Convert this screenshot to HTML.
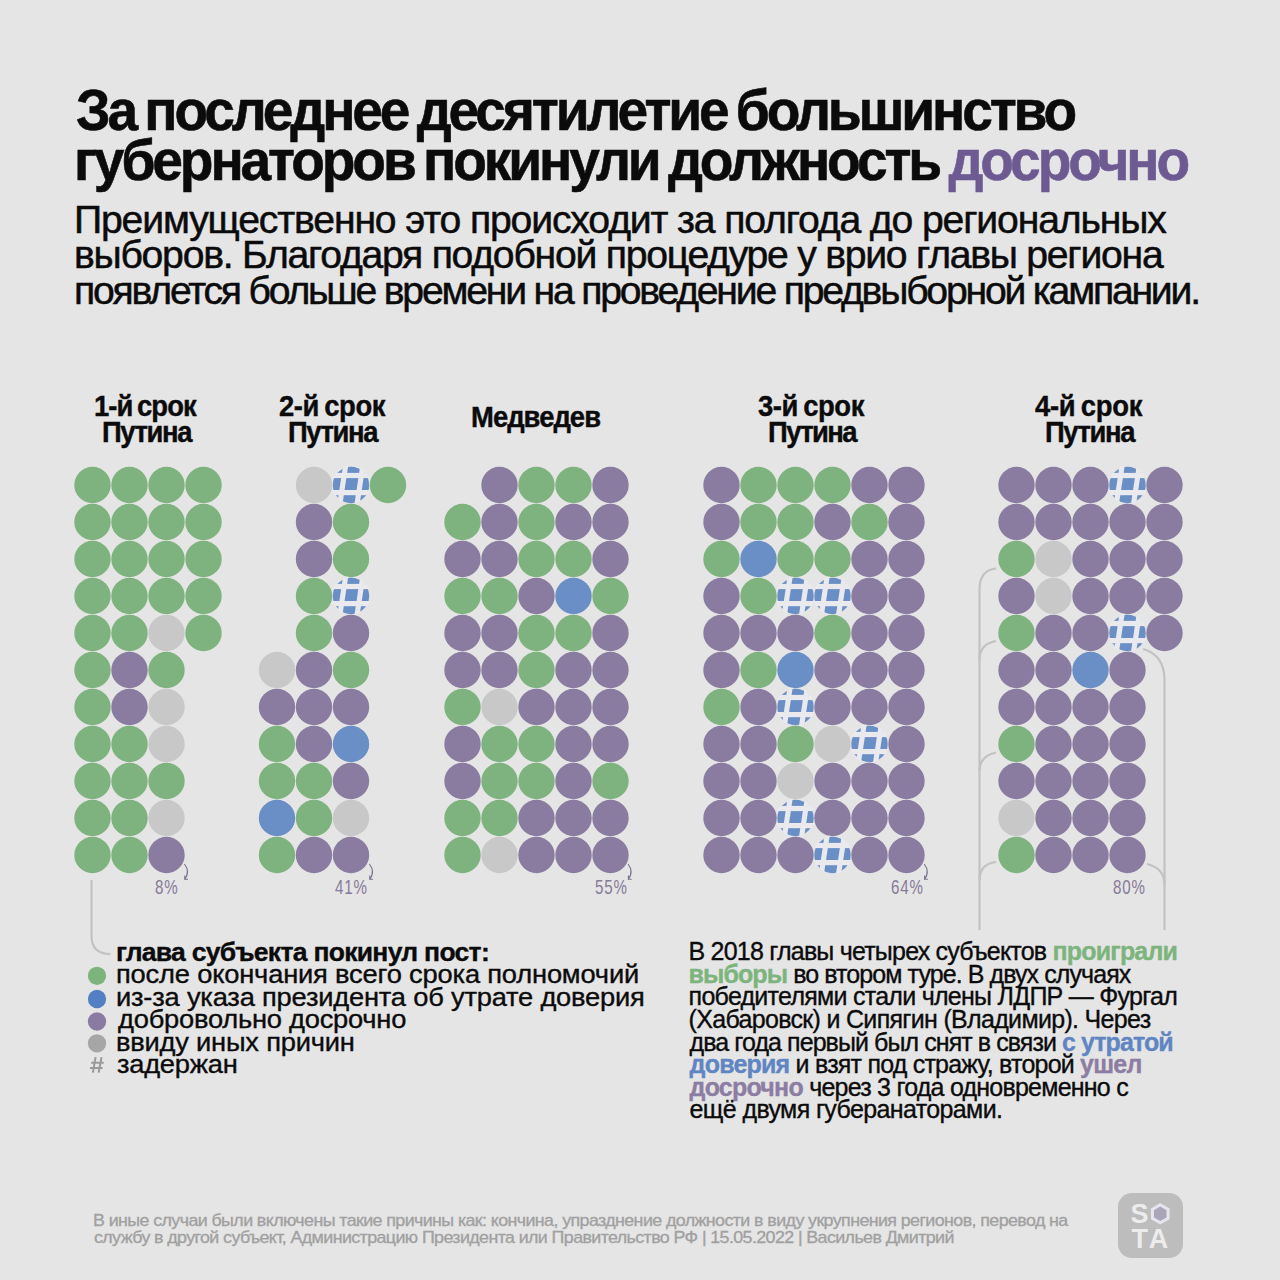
<!DOCTYPE html>
<html><head><meta charset="utf-8">
<style>
html,body{margin:0;padding:0;}
body{width:1280px;height:1280px;background:#e5e5e5;position:relative;overflow:hidden;font-family:"Liberation Sans",sans-serif;}
.t{position:absolute;white-space:nowrap;}
.pct{position:absolute;white-space:nowrap;font-size:21px;line-height:21px;color:#857a98;transform:scaleX(0.72);transform-origin:left top;letter-spacing:1.2px;}
</style></head><body>
<svg width="1280" height="1280" style="position:absolute;left:0;top:0">
<defs><clipPath id="hc"><circle r="18.2"/></clipPath><clipPath id="hc2"><circle r="19.4"/></clipPath></defs>
<circle cx="92.5" cy="485.0" r="18.2" fill="#7eb27e"/>
<circle cx="129.5" cy="485.0" r="18.2" fill="#7eb27e"/>
<circle cx="166.5" cy="485.0" r="18.2" fill="#7eb27e"/>
<circle cx="203.5" cy="485.0" r="18.2" fill="#7eb27e"/>
<circle cx="92.5" cy="522.0" r="18.2" fill="#7eb27e"/>
<circle cx="129.5" cy="522.0" r="18.2" fill="#7eb27e"/>
<circle cx="166.5" cy="522.0" r="18.2" fill="#7eb27e"/>
<circle cx="203.5" cy="522.0" r="18.2" fill="#7eb27e"/>
<circle cx="92.5" cy="559.0" r="18.2" fill="#7eb27e"/>
<circle cx="129.5" cy="559.0" r="18.2" fill="#7eb27e"/>
<circle cx="166.5" cy="559.0" r="18.2" fill="#7eb27e"/>
<circle cx="203.5" cy="559.0" r="18.2" fill="#7eb27e"/>
<circle cx="92.5" cy="596.0" r="18.2" fill="#7eb27e"/>
<circle cx="129.5" cy="596.0" r="18.2" fill="#7eb27e"/>
<circle cx="166.5" cy="596.0" r="18.2" fill="#7eb27e"/>
<circle cx="203.5" cy="596.0" r="18.2" fill="#7eb27e"/>
<circle cx="92.5" cy="633.0" r="18.2" fill="#7eb27e"/>
<circle cx="129.5" cy="633.0" r="18.2" fill="#7eb27e"/>
<circle cx="166.5" cy="633.0" r="18.2" fill="#c8c8c8"/>
<circle cx="203.5" cy="633.0" r="18.2" fill="#7eb27e"/>
<circle cx="92.5" cy="670.0" r="18.2" fill="#7eb27e"/>
<circle cx="129.5" cy="670.0" r="18.2" fill="#8a7ba0"/>
<circle cx="166.5" cy="670.0" r="18.2" fill="#7eb27e"/>
<circle cx="92.5" cy="707.0" r="18.2" fill="#7eb27e"/>
<circle cx="129.5" cy="707.0" r="18.2" fill="#8a7ba0"/>
<circle cx="166.5" cy="707.0" r="18.2" fill="#c8c8c8"/>
<circle cx="92.5" cy="744.0" r="18.2" fill="#7eb27e"/>
<circle cx="129.5" cy="744.0" r="18.2" fill="#7eb27e"/>
<circle cx="166.5" cy="744.0" r="18.2" fill="#c8c8c8"/>
<circle cx="92.5" cy="781.0" r="18.2" fill="#7eb27e"/>
<circle cx="129.5" cy="781.0" r="18.2" fill="#7eb27e"/>
<circle cx="166.5" cy="781.0" r="18.2" fill="#7eb27e"/>
<circle cx="92.5" cy="818.0" r="18.2" fill="#7eb27e"/>
<circle cx="129.5" cy="818.0" r="18.2" fill="#7eb27e"/>
<circle cx="166.5" cy="818.0" r="18.2" fill="#c8c8c8"/>
<circle cx="92.5" cy="855.0" r="18.2" fill="#7eb27e"/>
<circle cx="129.5" cy="855.0" r="18.2" fill="#7eb27e"/>
<circle cx="166.5" cy="855.0" r="18.2" fill="#8a7ba0"/>
<circle cx="314.0" cy="485.0" r="18.2" fill="#c8c8c8"/>
<g transform="translate(351.0,485.0)"><circle r="18.2" fill="#6a8fc6"/><g fill="#e9e9ee" clip-path="url(#hc2)"><rect x="-20" y="-12.1" width="40" height="5.2"/><rect x="-20" y="5.0" width="40" height="5.2"/><polygon points="-7.90,-20 -2.70,-20 -8.70,20 -13.90,20"/><polygon points="9.30,-20 14.50,-20 8.50,20 3.30,20"/></g></g>
<circle cx="388.0" cy="485.0" r="18.2" fill="#7eb27e"/>
<circle cx="314.0" cy="522.0" r="18.2" fill="#8a7ba0"/>
<circle cx="351.0" cy="522.0" r="18.2" fill="#7eb27e"/>
<circle cx="314.0" cy="559.0" r="18.2" fill="#8a7ba0"/>
<circle cx="351.0" cy="559.0" r="18.2" fill="#7eb27e"/>
<circle cx="314.0" cy="596.0" r="18.2" fill="#7eb27e"/>
<g transform="translate(351.0,596.0)"><circle r="18.2" fill="#6a8fc6"/><g fill="#e9e9ee" clip-path="url(#hc2)"><rect x="-20" y="-12.1" width="40" height="5.2"/><rect x="-20" y="5.0" width="40" height="5.2"/><polygon points="-7.90,-20 -2.70,-20 -8.70,20 -13.90,20"/><polygon points="9.30,-20 14.50,-20 8.50,20 3.30,20"/></g></g>
<circle cx="314.0" cy="633.0" r="18.2" fill="#7eb27e"/>
<circle cx="351.0" cy="633.0" r="18.2" fill="#8a7ba0"/>
<circle cx="277.0" cy="670.0" r="18.2" fill="#c8c8c8"/>
<circle cx="314.0" cy="670.0" r="18.2" fill="#8a7ba0"/>
<circle cx="351.0" cy="670.0" r="18.2" fill="#7eb27e"/>
<circle cx="277.0" cy="707.0" r="18.2" fill="#8a7ba0"/>
<circle cx="314.0" cy="707.0" r="18.2" fill="#8a7ba0"/>
<circle cx="351.0" cy="707.0" r="18.2" fill="#8a7ba0"/>
<circle cx="277.0" cy="744.0" r="18.2" fill="#7eb27e"/>
<circle cx="314.0" cy="744.0" r="18.2" fill="#8a7ba0"/>
<circle cx="351.0" cy="744.0" r="18.2" fill="#6a8fc6"/>
<circle cx="277.0" cy="781.0" r="18.2" fill="#7eb27e"/>
<circle cx="314.0" cy="781.0" r="18.2" fill="#7eb27e"/>
<circle cx="351.0" cy="781.0" r="18.2" fill="#8a7ba0"/>
<circle cx="277.0" cy="818.0" r="18.2" fill="#6a8fc6"/>
<circle cx="314.0" cy="818.0" r="18.2" fill="#7eb27e"/>
<circle cx="351.0" cy="818.0" r="18.2" fill="#c8c8c8"/>
<circle cx="277.0" cy="855.0" r="18.2" fill="#7eb27e"/>
<circle cx="314.0" cy="855.0" r="18.2" fill="#8a7ba0"/>
<circle cx="351.0" cy="855.0" r="18.2" fill="#8a7ba0"/>
<circle cx="499.5" cy="485.0" r="18.2" fill="#8a7ba0"/>
<circle cx="536.5" cy="485.0" r="18.2" fill="#7eb27e"/>
<circle cx="573.5" cy="485.0" r="18.2" fill="#7eb27e"/>
<circle cx="610.5" cy="485.0" r="18.2" fill="#8a7ba0"/>
<circle cx="462.5" cy="522.0" r="18.2" fill="#7eb27e"/>
<circle cx="499.5" cy="522.0" r="18.2" fill="#8a7ba0"/>
<circle cx="536.5" cy="522.0" r="18.2" fill="#7eb27e"/>
<circle cx="573.5" cy="522.0" r="18.2" fill="#8a7ba0"/>
<circle cx="610.5" cy="522.0" r="18.2" fill="#8a7ba0"/>
<circle cx="462.5" cy="559.0" r="18.2" fill="#8a7ba0"/>
<circle cx="499.5" cy="559.0" r="18.2" fill="#8a7ba0"/>
<circle cx="536.5" cy="559.0" r="18.2" fill="#7eb27e"/>
<circle cx="573.5" cy="559.0" r="18.2" fill="#7eb27e"/>
<circle cx="610.5" cy="559.0" r="18.2" fill="#8a7ba0"/>
<circle cx="462.5" cy="596.0" r="18.2" fill="#7eb27e"/>
<circle cx="499.5" cy="596.0" r="18.2" fill="#7eb27e"/>
<circle cx="536.5" cy="596.0" r="18.2" fill="#8a7ba0"/>
<circle cx="573.5" cy="596.0" r="18.2" fill="#6a8fc6"/>
<circle cx="610.5" cy="596.0" r="18.2" fill="#7eb27e"/>
<circle cx="462.5" cy="633.0" r="18.2" fill="#8a7ba0"/>
<circle cx="499.5" cy="633.0" r="18.2" fill="#8a7ba0"/>
<circle cx="536.5" cy="633.0" r="18.2" fill="#7eb27e"/>
<circle cx="573.5" cy="633.0" r="18.2" fill="#7eb27e"/>
<circle cx="610.5" cy="633.0" r="18.2" fill="#8a7ba0"/>
<circle cx="462.5" cy="670.0" r="18.2" fill="#8a7ba0"/>
<circle cx="499.5" cy="670.0" r="18.2" fill="#8a7ba0"/>
<circle cx="536.5" cy="670.0" r="18.2" fill="#7eb27e"/>
<circle cx="573.5" cy="670.0" r="18.2" fill="#8a7ba0"/>
<circle cx="610.5" cy="670.0" r="18.2" fill="#8a7ba0"/>
<circle cx="462.5" cy="707.0" r="18.2" fill="#7eb27e"/>
<circle cx="499.5" cy="707.0" r="18.2" fill="#c8c8c8"/>
<circle cx="536.5" cy="707.0" r="18.2" fill="#8a7ba0"/>
<circle cx="573.5" cy="707.0" r="18.2" fill="#8a7ba0"/>
<circle cx="610.5" cy="707.0" r="18.2" fill="#8a7ba0"/>
<circle cx="462.5" cy="744.0" r="18.2" fill="#8a7ba0"/>
<circle cx="499.5" cy="744.0" r="18.2" fill="#7eb27e"/>
<circle cx="536.5" cy="744.0" r="18.2" fill="#7eb27e"/>
<circle cx="573.5" cy="744.0" r="18.2" fill="#8a7ba0"/>
<circle cx="610.5" cy="744.0" r="18.2" fill="#8a7ba0"/>
<circle cx="462.5" cy="781.0" r="18.2" fill="#8a7ba0"/>
<circle cx="499.5" cy="781.0" r="18.2" fill="#7eb27e"/>
<circle cx="536.5" cy="781.0" r="18.2" fill="#7eb27e"/>
<circle cx="573.5" cy="781.0" r="18.2" fill="#8a7ba0"/>
<circle cx="610.5" cy="781.0" r="18.2" fill="#7eb27e"/>
<circle cx="462.5" cy="818.0" r="18.2" fill="#7eb27e"/>
<circle cx="499.5" cy="818.0" r="18.2" fill="#7eb27e"/>
<circle cx="536.5" cy="818.0" r="18.2" fill="#8a7ba0"/>
<circle cx="573.5" cy="818.0" r="18.2" fill="#8a7ba0"/>
<circle cx="610.5" cy="818.0" r="18.2" fill="#8a7ba0"/>
<circle cx="462.5" cy="855.0" r="18.2" fill="#7eb27e"/>
<circle cx="499.5" cy="855.0" r="18.2" fill="#c8c8c8"/>
<circle cx="536.5" cy="855.0" r="18.2" fill="#8a7ba0"/>
<circle cx="573.5" cy="855.0" r="18.2" fill="#8a7ba0"/>
<circle cx="610.5" cy="855.0" r="18.2" fill="#8a7ba0"/>
<circle cx="721.5" cy="485.0" r="18.2" fill="#8a7ba0"/>
<circle cx="758.5" cy="485.0" r="18.2" fill="#7eb27e"/>
<circle cx="795.5" cy="485.0" r="18.2" fill="#7eb27e"/>
<circle cx="832.5" cy="485.0" r="18.2" fill="#7eb27e"/>
<circle cx="869.5" cy="485.0" r="18.2" fill="#8a7ba0"/>
<circle cx="906.5" cy="485.0" r="18.2" fill="#8a7ba0"/>
<circle cx="721.5" cy="522.0" r="18.2" fill="#8a7ba0"/>
<circle cx="758.5" cy="522.0" r="18.2" fill="#7eb27e"/>
<circle cx="795.5" cy="522.0" r="18.2" fill="#7eb27e"/>
<circle cx="832.5" cy="522.0" r="18.2" fill="#8a7ba0"/>
<circle cx="869.5" cy="522.0" r="18.2" fill="#7eb27e"/>
<circle cx="906.5" cy="522.0" r="18.2" fill="#8a7ba0"/>
<circle cx="721.5" cy="559.0" r="18.2" fill="#7eb27e"/>
<circle cx="758.5" cy="559.0" r="18.2" fill="#6a8fc6"/>
<circle cx="795.5" cy="559.0" r="18.2" fill="#7eb27e"/>
<circle cx="832.5" cy="559.0" r="18.2" fill="#7eb27e"/>
<circle cx="869.5" cy="559.0" r="18.2" fill="#8a7ba0"/>
<circle cx="906.5" cy="559.0" r="18.2" fill="#8a7ba0"/>
<circle cx="721.5" cy="596.0" r="18.2" fill="#8a7ba0"/>
<circle cx="758.5" cy="596.0" r="18.2" fill="#7eb27e"/>
<g transform="translate(795.5,596.0)"><circle r="18.2" fill="#6a8fc6"/><g fill="#e9e9ee" clip-path="url(#hc2)"><rect x="-20" y="-12.1" width="40" height="5.2"/><rect x="-20" y="5.0" width="40" height="5.2"/><polygon points="-7.90,-20 -2.70,-20 -8.70,20 -13.90,20"/><polygon points="9.30,-20 14.50,-20 8.50,20 3.30,20"/></g></g>
<g transform="translate(832.5,596.0)"><circle r="18.2" fill="#6a8fc6"/><g fill="#e9e9ee" clip-path="url(#hc2)"><rect x="-20" y="-12.1" width="40" height="5.2"/><rect x="-20" y="5.0" width="40" height="5.2"/><polygon points="-7.90,-20 -2.70,-20 -8.70,20 -13.90,20"/><polygon points="9.30,-20 14.50,-20 8.50,20 3.30,20"/></g></g>
<circle cx="869.5" cy="596.0" r="18.2" fill="#8a7ba0"/>
<circle cx="906.5" cy="596.0" r="18.2" fill="#8a7ba0"/>
<circle cx="721.5" cy="633.0" r="18.2" fill="#8a7ba0"/>
<circle cx="758.5" cy="633.0" r="18.2" fill="#8a7ba0"/>
<circle cx="795.5" cy="633.0" r="18.2" fill="#8a7ba0"/>
<circle cx="832.5" cy="633.0" r="18.2" fill="#7eb27e"/>
<circle cx="869.5" cy="633.0" r="18.2" fill="#8a7ba0"/>
<circle cx="906.5" cy="633.0" r="18.2" fill="#8a7ba0"/>
<circle cx="721.5" cy="670.0" r="18.2" fill="#8a7ba0"/>
<circle cx="758.5" cy="670.0" r="18.2" fill="#7eb27e"/>
<circle cx="795.5" cy="670.0" r="18.2" fill="#6a8fc6"/>
<circle cx="832.5" cy="670.0" r="18.2" fill="#8a7ba0"/>
<circle cx="869.5" cy="670.0" r="18.2" fill="#8a7ba0"/>
<circle cx="906.5" cy="670.0" r="18.2" fill="#8a7ba0"/>
<circle cx="721.5" cy="707.0" r="18.2" fill="#7eb27e"/>
<circle cx="758.5" cy="707.0" r="18.2" fill="#8a7ba0"/>
<g transform="translate(795.5,707.0)"><circle r="18.2" fill="#6a8fc6"/><g fill="#e9e9ee" clip-path="url(#hc2)"><rect x="-20" y="-12.1" width="40" height="5.2"/><rect x="-20" y="5.0" width="40" height="5.2"/><polygon points="-7.90,-20 -2.70,-20 -8.70,20 -13.90,20"/><polygon points="9.30,-20 14.50,-20 8.50,20 3.30,20"/></g></g>
<circle cx="832.5" cy="707.0" r="18.2" fill="#8a7ba0"/>
<circle cx="869.5" cy="707.0" r="18.2" fill="#8a7ba0"/>
<circle cx="906.5" cy="707.0" r="18.2" fill="#8a7ba0"/>
<circle cx="721.5" cy="744.0" r="18.2" fill="#8a7ba0"/>
<circle cx="758.5" cy="744.0" r="18.2" fill="#8a7ba0"/>
<circle cx="795.5" cy="744.0" r="18.2" fill="#7eb27e"/>
<circle cx="832.5" cy="744.0" r="18.2" fill="#c8c8c8"/>
<g transform="translate(869.5,744.0)"><circle r="18.2" fill="#6a8fc6"/><g fill="#e9e9ee" clip-path="url(#hc2)"><rect x="-20" y="-12.1" width="40" height="5.2"/><rect x="-20" y="5.0" width="40" height="5.2"/><polygon points="-7.90,-20 -2.70,-20 -8.70,20 -13.90,20"/><polygon points="9.30,-20 14.50,-20 8.50,20 3.30,20"/></g></g>
<circle cx="906.5" cy="744.0" r="18.2" fill="#8a7ba0"/>
<circle cx="721.5" cy="781.0" r="18.2" fill="#8a7ba0"/>
<circle cx="758.5" cy="781.0" r="18.2" fill="#8a7ba0"/>
<circle cx="795.5" cy="781.0" r="18.2" fill="#c8c8c8"/>
<circle cx="832.5" cy="781.0" r="18.2" fill="#8a7ba0"/>
<circle cx="869.5" cy="781.0" r="18.2" fill="#8a7ba0"/>
<circle cx="906.5" cy="781.0" r="18.2" fill="#8a7ba0"/>
<circle cx="721.5" cy="818.0" r="18.2" fill="#8a7ba0"/>
<circle cx="758.5" cy="818.0" r="18.2" fill="#8a7ba0"/>
<g transform="translate(795.5,818.0)"><circle r="18.2" fill="#6a8fc6"/><g fill="#e9e9ee" clip-path="url(#hc2)"><rect x="-20" y="-12.1" width="40" height="5.2"/><rect x="-20" y="5.0" width="40" height="5.2"/><polygon points="-7.90,-20 -2.70,-20 -8.70,20 -13.90,20"/><polygon points="9.30,-20 14.50,-20 8.50,20 3.30,20"/></g></g>
<circle cx="832.5" cy="818.0" r="18.2" fill="#8a7ba0"/>
<circle cx="869.5" cy="818.0" r="18.2" fill="#8a7ba0"/>
<circle cx="906.5" cy="818.0" r="18.2" fill="#8a7ba0"/>
<circle cx="721.5" cy="855.0" r="18.2" fill="#8a7ba0"/>
<circle cx="758.5" cy="855.0" r="18.2" fill="#8a7ba0"/>
<circle cx="795.5" cy="855.0" r="18.2" fill="#8a7ba0"/>
<g transform="translate(832.5,855.0)"><circle r="18.2" fill="#6a8fc6"/><g fill="#e9e9ee" clip-path="url(#hc2)"><rect x="-20" y="-12.1" width="40" height="5.2"/><rect x="-20" y="5.0" width="40" height="5.2"/><polygon points="-7.90,-20 -2.70,-20 -8.70,20 -13.90,20"/><polygon points="9.30,-20 14.50,-20 8.50,20 3.30,20"/></g></g>
<circle cx="869.5" cy="855.0" r="18.2" fill="#8a7ba0"/>
<circle cx="906.5" cy="855.0" r="18.2" fill="#8a7ba0"/>
<circle cx="1016.5" cy="485.0" r="18.2" fill="#8a7ba0"/>
<circle cx="1053.5" cy="485.0" r="18.2" fill="#8a7ba0"/>
<circle cx="1090.5" cy="485.0" r="18.2" fill="#8a7ba0"/>
<g transform="translate(1127.5,485.0)"><circle r="18.2" fill="#6a8fc6"/><g fill="#e9e9ee" clip-path="url(#hc2)"><rect x="-20" y="-12.1" width="40" height="5.2"/><rect x="-20" y="5.0" width="40" height="5.2"/><polygon points="-7.90,-20 -2.70,-20 -8.70,20 -13.90,20"/><polygon points="9.30,-20 14.50,-20 8.50,20 3.30,20"/></g></g>
<circle cx="1164.5" cy="485.0" r="18.2" fill="#8a7ba0"/>
<circle cx="1016.5" cy="522.0" r="18.2" fill="#8a7ba0"/>
<circle cx="1053.5" cy="522.0" r="18.2" fill="#8a7ba0"/>
<circle cx="1090.5" cy="522.0" r="18.2" fill="#8a7ba0"/>
<circle cx="1127.5" cy="522.0" r="18.2" fill="#8a7ba0"/>
<circle cx="1164.5" cy="522.0" r="18.2" fill="#8a7ba0"/>
<circle cx="1016.5" cy="559.0" r="18.2" fill="#7eb27e"/>
<circle cx="1053.5" cy="559.0" r="18.2" fill="#c8c8c8"/>
<circle cx="1090.5" cy="559.0" r="18.2" fill="#8a7ba0"/>
<circle cx="1127.5" cy="559.0" r="18.2" fill="#8a7ba0"/>
<circle cx="1164.5" cy="559.0" r="18.2" fill="#8a7ba0"/>
<circle cx="1016.5" cy="596.0" r="18.2" fill="#8a7ba0"/>
<circle cx="1053.5" cy="596.0" r="18.2" fill="#c8c8c8"/>
<circle cx="1090.5" cy="596.0" r="18.2" fill="#8a7ba0"/>
<circle cx="1127.5" cy="596.0" r="18.2" fill="#8a7ba0"/>
<circle cx="1164.5" cy="596.0" r="18.2" fill="#8a7ba0"/>
<circle cx="1016.5" cy="633.0" r="18.2" fill="#7eb27e"/>
<circle cx="1053.5" cy="633.0" r="18.2" fill="#8a7ba0"/>
<circle cx="1090.5" cy="633.0" r="18.2" fill="#8a7ba0"/>
<g transform="translate(1127.5,633.0)"><circle r="18.2" fill="#6a8fc6"/><g fill="#e9e9ee" clip-path="url(#hc2)"><rect x="-20" y="-12.1" width="40" height="5.2"/><rect x="-20" y="5.0" width="40" height="5.2"/><polygon points="-7.90,-20 -2.70,-20 -8.70,20 -13.90,20"/><polygon points="9.30,-20 14.50,-20 8.50,20 3.30,20"/></g></g>
<circle cx="1164.5" cy="633.0" r="18.2" fill="#8a7ba0"/>
<circle cx="1016.5" cy="670.0" r="18.2" fill="#8a7ba0"/>
<circle cx="1053.5" cy="670.0" r="18.2" fill="#8a7ba0"/>
<circle cx="1090.5" cy="670.0" r="18.2" fill="#6a8fc6"/>
<circle cx="1127.5" cy="670.0" r="18.2" fill="#8a7ba0"/>
<circle cx="1016.5" cy="707.0" r="18.2" fill="#8a7ba0"/>
<circle cx="1053.5" cy="707.0" r="18.2" fill="#8a7ba0"/>
<circle cx="1090.5" cy="707.0" r="18.2" fill="#8a7ba0"/>
<circle cx="1127.5" cy="707.0" r="18.2" fill="#8a7ba0"/>
<circle cx="1016.5" cy="744.0" r="18.2" fill="#7eb27e"/>
<circle cx="1053.5" cy="744.0" r="18.2" fill="#8a7ba0"/>
<circle cx="1090.5" cy="744.0" r="18.2" fill="#8a7ba0"/>
<circle cx="1127.5" cy="744.0" r="18.2" fill="#8a7ba0"/>
<circle cx="1016.5" cy="781.0" r="18.2" fill="#8a7ba0"/>
<circle cx="1053.5" cy="781.0" r="18.2" fill="#8a7ba0"/>
<circle cx="1090.5" cy="781.0" r="18.2" fill="#8a7ba0"/>
<circle cx="1127.5" cy="781.0" r="18.2" fill="#8a7ba0"/>
<circle cx="1016.5" cy="818.0" r="18.2" fill="#c8c8c8"/>
<circle cx="1053.5" cy="818.0" r="18.2" fill="#8a7ba0"/>
<circle cx="1090.5" cy="818.0" r="18.2" fill="#8a7ba0"/>
<circle cx="1127.5" cy="818.0" r="18.2" fill="#8a7ba0"/>
<circle cx="1016.5" cy="855.0" r="18.2" fill="#7eb27e"/>
<circle cx="1053.5" cy="855.0" r="18.2" fill="#8a7ba0"/>
<circle cx="1090.5" cy="855.0" r="18.2" fill="#8a7ba0"/>
<circle cx="1127.5" cy="855.0" r="18.2" fill="#8a7ba0"/>
<g fill="none" stroke="#c2c2c2" stroke-width="2.2">
<path d="M91.5 880 V936 Q91.5 954 110.5 954"/>
<path d="M979.5 930 V590 Q979.5 570 996 568.5"/>
<path d="M979.5 660 Q979.5 644 996 641"/>
<path d="M979.5 771 Q979.5 756 996 752.5"/>
<path d="M979.5 880 Q979.5 864 996 862"/>
<path d="M1164.5 930 V680 Q1164.5 655 1143 649"/>
<path d="M1164.5 885 Q1164.5 868 1147 864"/>
</g>
<g fill="none" stroke="#77708a" stroke-width="1.1">
<path d="M184.4 864 Q190.4 871.5 184.8 879.2" /><path d="M184.8 875.6 V879.2 H188.0" />
<path d="M369.4 864 Q375.4 871.5 369.79999999999995 879.2" /><path d="M369.79999999999995 875.6 V879.2 H373.0" />
<path d="M628 864 Q634 871.5 628.4 879.2" /><path d="M628.4 875.6 V879.2 H631.6" />
<path d="M924.2 864 Q930.2 871.5 924.6 879.2" /><path d="M924.6 875.6 V879.2 H927.8000000000001" />
</g>
<circle cx="97" cy="975.8" r="9.15" fill="#7db47d"/>
<circle cx="97" cy="999" r="9.15" fill="#5380c4"/>
<circle cx="97" cy="1021.5" r="9.15" fill="#8a7ba3"/>
<circle cx="97" cy="1043.3" r="9.15" fill="#a6a6a6"/>
<path d="M95.6 1057.2 L92.9 1072.6 M101.5 1057.2 L98.7 1072.6 M91.2 1062.7 H103.7 M90 1068 H102.5" stroke="#9a9a9a" stroke-width="2" fill="none"/>
<rect x="1118" y="1193" width="65" height="65" rx="14" fill="#bdbdbd"/>
<g fill="#ececec" font-family="Liberation Sans" font-weight="bold" font-size="27" text-anchor="middle">
<text x="1139.5" y="1223.4">S</text><text x="1139.8" y="1247.6">T</text><text x="1158.4" y="1247.6">A</text></g>
<polygon points="1160.25,1203 1169.56,1208.38 1169.56,1219.13 1160.25,1224.5 1150.94,1219.13 1150.94,1208.38" fill="#e6e4ee"/>
<polygon points="1160.25,1206.5 1166.53,1210.13 1166.53,1217.38 1160.25,1221 1153.97,1217.38 1153.97,1210.13" fill="#aba5b8"/>
</svg>
<div class="t" style="left:76.20px;top:81.40px;font-size:58px;line-height:58px;font-weight:bold;color:#0b0b0b;letter-spacing:-3.296px;transform:scaleX(0.95);transform-origin:0 0;word-spacing:-3px;-webkit-text-stroke:0.6px #0b0b0b;">За последнее десятилетие большинство</div>
<div class="t" style="left:74.00px;top:130.90px;font-size:58px;line-height:58px;font-weight:bold;color:#0b0b0b;letter-spacing:-3.270px;transform:scaleX(0.95);transform-origin:0 0;word-spacing:-3px;-webkit-text-stroke:0.6px currentColor;">губернаторов покинули должность <span style="color:#6d5a92">досрочно</span></div>
<div class="t" style="left:74.40px;top:200.63px;font-size:38px;line-height:38px;font-weight:normal;color:#0b0b0b;letter-spacing:-1.107px;transform:scaleX(1.03);transform-origin:0 0;-webkit-text-stroke:0.5px #0b0b0b;">Преимущественно это происходит за полгода до региональных</div>
<div class="t" style="left:74.40px;top:235.93px;font-size:38px;line-height:38px;font-weight:normal;color:#0b0b0b;letter-spacing:-1.211px;transform:scaleX(1.03);transform-origin:0 0;-webkit-text-stroke:0.5px #0b0b0b;">выборов. Благодаря подобной процедуре у врио главы региона</div>
<div class="t" style="left:74.40px;top:271.53px;font-size:38px;line-height:38px;font-weight:normal;color:#0b0b0b;letter-spacing:-2.134px;transform:scaleX(1.03);transform-origin:0 0;-webkit-text-stroke:0.5px #0b0b0b;">появлется больше времени на проведение предвыборной кампании.</div>
<div class="t" style="left:94.00px;top:391.28px;font-size:29.5px;line-height:29.5px;font-weight:bold;color:#0b0b0b;letter-spacing:-1.057px;transform:scaleX(0.93);transform-origin:0 0;word-spacing:-2px;-webkit-text-stroke:0.4px #0b0b0b;">1-й срок</div>
<div class="t" style="left:102.10px;top:416.93px;font-size:29.5px;line-height:29.5px;font-weight:bold;color:#0b0b0b;letter-spacing:-1.510px;transform:scaleX(0.93);transform-origin:0 0;word-spacing:-2px;-webkit-text-stroke:0.4px #0b0b0b;">Путина</div>
<div class="t" style="left:278.75px;top:391.28px;font-size:29.5px;line-height:29.5px;font-weight:bold;color:#0b0b0b;letter-spacing:-0.475px;transform:scaleX(0.93);transform-origin:0 0;word-spacing:-2px;-webkit-text-stroke:0.4px #0b0b0b;">2-й срок</div>
<div class="t" style="left:288.40px;top:416.93px;font-size:29.5px;line-height:29.5px;font-weight:bold;color:#0b0b0b;letter-spacing:-1.510px;transform:scaleX(0.93);transform-origin:0 0;word-spacing:-2px;-webkit-text-stroke:0.4px #0b0b0b;">Путина</div>
<div class="t" style="left:470.90px;top:401.93px;font-size:29.5px;line-height:29.5px;font-weight:bold;color:#0b0b0b;letter-spacing:-1.046px;transform:scaleX(0.93);transform-origin:0 0;word-spacing:-2px;-webkit-text-stroke:0.4px #0b0b0b;">Медведев</div>
<div class="t" style="left:758.10px;top:391.28px;font-size:29.5px;line-height:29.5px;font-weight:bold;color:#0b0b0b;letter-spacing:-0.485px;transform:scaleX(0.93);transform-origin:0 0;word-spacing:-2px;-webkit-text-stroke:0.4px #0b0b0b;">3-й срок</div>
<div class="t" style="left:767.75px;top:416.93px;font-size:29.5px;line-height:29.5px;font-weight:bold;color:#0b0b0b;letter-spacing:-1.710px;transform:scaleX(0.93);transform-origin:0 0;word-spacing:-2px;-webkit-text-stroke:0.4px #0b0b0b;">Путина</div>
<div class="t" style="left:1035.00px;top:391.28px;font-size:29.5px;line-height:29.5px;font-weight:bold;color:#0b0b0b;letter-spacing:-0.332px;transform:scaleX(0.93);transform-origin:0 0;word-spacing:-2px;-webkit-text-stroke:0.4px #0b0b0b;">4-й срок</div>
<div class="t" style="left:1044.60px;top:416.93px;font-size:29.5px;line-height:29.5px;font-weight:bold;color:#0b0b0b;letter-spacing:-1.510px;transform:scaleX(0.93);transform-origin:0 0;word-spacing:-2px;-webkit-text-stroke:0.4px #0b0b0b;">Путина</div>
<div class="t" style="left:116.30px;top:938.99px;font-size:26px;line-height:26px;font-weight:bold;color:#0b0b0b;letter-spacing:-0.697px;transform:scaleX(1.02);transform-origin:0 0;-webkit-text-stroke:0.35px currentColor;">глава субъекта покинул пост:</div>
<div class="t" style="left:116.30px;top:961.49px;font-size:26px;line-height:26px;font-weight:normal;color:#0b0b0b;letter-spacing:-0.181px;transform:scaleX(1.05);transform-origin:0 0;-webkit-text-stroke:0.35px currentColor;">после окончания всего срока полномочий</div>
<div class="t" style="left:116.30px;top:983.99px;font-size:26px;line-height:26px;font-weight:normal;color:#0b0b0b;letter-spacing:-0.198px;transform:scaleX(1.05);transform-origin:0 0;-webkit-text-stroke:0.35px currentColor;">из-за указа президента об утрате доверия</div>
<div class="t" style="left:118.30px;top:1006.49px;font-size:26px;line-height:26px;font-weight:normal;color:#0b0b0b;letter-spacing:-0.227px;transform:scaleX(1.05);transform-origin:0 0;-webkit-text-stroke:0.35px currentColor;">добровольно досрочно</div>
<div class="t" style="left:116.30px;top:1028.99px;font-size:26px;line-height:26px;font-weight:normal;color:#0b0b0b;letter-spacing:-0.214px;transform:scaleX(1.05);transform-origin:0 0;-webkit-text-stroke:0.35px currentColor;">ввиду иных причин</div>
<div class="t" style="left:117.30px;top:1051.49px;font-size:26px;line-height:26px;font-weight:normal;color:#0b0b0b;letter-spacing:-0.241px;transform:scaleX(1.05);transform-origin:0 0;-webkit-text-stroke:0.35px currentColor;">задержан</div>
<div class="t" style="left:688.60px;top:939.04px;font-size:25px;line-height:25px;font-weight:normal;color:#0b0b0b;letter-spacing:-0.795px;transform:scaleX(1);transform-origin:0 0;-webkit-text-stroke:0.35px currentColor;">В 2018 главы четырех субъектов <b style="color:#7db47d">проиграли</b></div>
<div class="t" style="left:688.60px;top:962.04px;font-size:25px;line-height:25px;font-weight:normal;color:#0b0b0b;letter-spacing:-0.917px;transform:scaleX(1);transform-origin:0 0;-webkit-text-stroke:0.35px currentColor;"><b style="color:#7db47d">выборы</b> во втором туре. В двух случаях</div>
<div class="t" style="left:688.60px;top:984.34px;font-size:25px;line-height:25px;font-weight:normal;color:#0b0b0b;letter-spacing:-0.730px;transform:scaleX(1);transform-origin:0 0;-webkit-text-stroke:0.35px currentColor;">победителями стали члены ЛДПР — Фургал</div>
<div class="t" style="left:688.60px;top:1007.04px;font-size:25px;line-height:25px;font-weight:normal;color:#0b0b0b;letter-spacing:-0.684px;transform:scaleX(1);transform-origin:0 0;-webkit-text-stroke:0.35px currentColor;">(Хабаровск) и Сипягин (Владимир). Через</div>
<div class="t" style="left:689.60px;top:1029.54px;font-size:25px;line-height:25px;font-weight:normal;color:#0b0b0b;letter-spacing:-0.927px;transform:scaleX(1);transform-origin:0 0;-webkit-text-stroke:0.35px currentColor;">два года первый был снят в связи <b style="color:#5f85c2">с утратой</b></div>
<div class="t" style="left:689.60px;top:1051.84px;font-size:25px;line-height:25px;font-weight:normal;color:#0b0b0b;letter-spacing:-0.784px;transform:scaleX(1);transform-origin:0 0;-webkit-text-stroke:0.35px currentColor;"><b style="color:#5f85c2">доверия</b> и взят под стражу, второй <b style="color:#8c7da2">ушел</b></div>
<div class="t" style="left:689.60px;top:1074.84px;font-size:25px;line-height:25px;font-weight:normal;color:#0b0b0b;letter-spacing:-0.771px;transform:scaleX(1);transform-origin:0 0;-webkit-text-stroke:0.35px currentColor;"><b style="color:#8c7da2">досрочно</b> через 3 года одновременно с</div>
<div class="t" style="left:689.60px;top:1097.14px;font-size:25px;line-height:25px;font-weight:normal;color:#0b0b0b;letter-spacing:-0.625px;transform:scaleX(1);transform-origin:0 0;-webkit-text-stroke:0.35px currentColor;">ещё двумя губеранаторами.</div>
<div class="t" style="left:92.75px;top:1211.51px;font-size:17px;line-height:17px;font-weight:normal;color:#a0a0a0;letter-spacing:-0.570px;transform:scaleX(1.05);transform-origin:0 0;-webkit-text-stroke:0.3px #a0a0a0;">В иные случаи были включены такие причины как: кончина, упразднение должности в виду укрупнения регионов, перевод на</div>
<div class="t" style="left:93.75px;top:1229.01px;font-size:17px;line-height:17px;font-weight:normal;color:#a0a0a0;letter-spacing:-0.579px;transform:scaleX(1.05);transform-origin:0 0;-webkit-text-stroke:0.3px #a0a0a0;">службу в другой субъект, Администрацию Президента или Правительство РФ | 15.05.2022 | Васильев Дмитрий</div>
<div class="pct" style="left:155px;top:876px">8%</div>
<div class="pct" style="left:335px;top:876px">41%</div>
<div class="pct" style="left:595px;top:876px">55%</div>
<div class="pct" style="left:891px;top:876px">64%</div>
<div class="pct" style="left:1113px;top:876px">80%</div>

</body></html>
